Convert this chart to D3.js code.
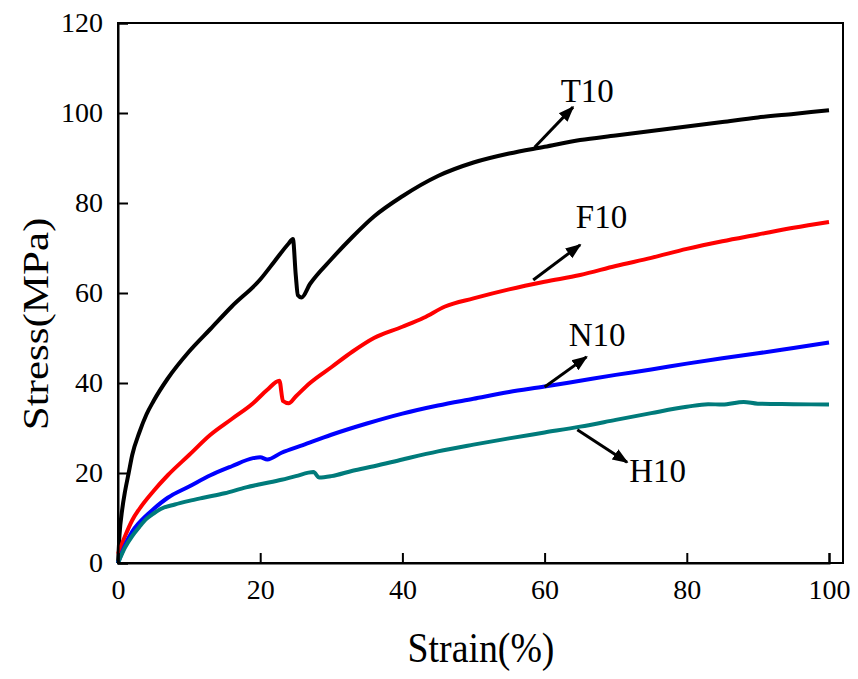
<!DOCTYPE html>
<html><head><meta charset="utf-8">
<script src="https://cdn.jsdelivr.net/npm/d3@7"></script>
<style>body{margin:0;background:#fff}svg{display:block}</style>
</head><body>
<svg id="c" width="858" height="679"></svg>
<script>
const T10 = [[0,0],[0.2,6],[0.6,12],[1,16],[1.5,20],[2,24],[3,29],[4,33],[5,36],[7,41],[10,47],[13,52],[16,57],[20,63],[22,67],[24,71],[24.6,72],[25,64],[25.3,59.5],[25.8,59],[27,62],[30,67.5],[33,72.5],[36,77],[40,81.5],[45,86],[50,89],[55,91],[60,92.5],[65,94],[70,95],[75,96],[80,97],[85,98],[90,99],[95,99.8],[100,100.6]];
const F10 = [[0,2],[1,6],[2,9.5],[3,12],[5,16],[7,19.5],[10,24],[13,28.5],[16,32],[19,35.5],[21,38.5],[22.7,40.5],[23.2,36],[24,35.5],[25,37],[27,40],[30,43.5],[33,47],[36,50],[40,52.5],[43,54.5],[46,57],[50,58.8],[55,60.8],[60,62.5],[65,64],[70,66],[75,67.8],[80,69.8],[85,71.5],[90,73],[95,74.5],[100,75.8]];
const N10 = [[0,0],[1,4],[2,7],[3,9],[5,12],[7,14.5],[10,17],[13,19.5],[16,21.5],[19,23.3],[20,23.5],[21,23],[23,24.5],[26,26.2],[30,28.5],[35,31],[40,33.2],[45,35],[50,36.5],[55,38],[60,39.2],[65,40.5],[70,41.8],[75,43],[80,44.3],[85,45.5],[90,46.6],[95,47.8],[100,49]];
const H10 = [[0,0],[1,3.5],[2,6],[3,8],[4,9.8],[5,11],[6,12],[8,13],[10,13.8],[12,14.5],[15,15.5],[18,16.8],[20,17.5],[23,18.5],[25,19.3],[27.5,20.2],[28.3,19],[30,19.3],[33,20.5],[36,21.5],[40,23],[45,24.8],[50,26.3],[55,27.7],[60,29],[65,30.3],[70,31.8],[75,33.3],[80,34.7],[83,35.3],[85,35.2],[88,35.8],[90,35.4],[95,35.3],[100,35.2]];
const seriesNames = ["T10","F10","N10","H10"];
const seriesColors = ["#000000","#ff0000","#0000ff","#007b7b"];
const xTicks = [0,20,40,60,80,100];
const yTicks = [0,20,40,60,80,100,120];
// annotations: [label, arrowStartX, arrowStartY, arrowEndX, arrowEndY, labelX, labelY]
const annotations = [
  ["T10",58.6,92.4,64,101.3,66,102.4],
  ["F10",58.4,62.9,65,70.7,68.0,74.4],
  ["N10",60,39.1,65.9,45.8,67.4,48.2],
  ["H10",64.6,29.6,71.6,22.4,75.9,18]
];

const FONT = "'Liberation Serif', 'Times New Roman', Tinos, 'DejaVu Serif', serif";
const svg = d3.select("#c");
const x = d3.scaleLinear().domain([0,100]).range([118,829]);
const y = d3.scaleLinear().domain([0,120]).range([563,23]);

svg.append("defs").append("marker").attr("id","ah").attr("viewBox","0 0 10 10")
  .attr("refX",9).attr("refY",5).attr("markerWidth",5.3).attr("markerHeight",5.3)
  .attr("orient","auto").attr("markerUnits","strokeWidth")
  .append("path").attr("d","M0,1.2L10,5L0,8.8z").attr("fill","#000");

const line = d3.line().x(d=>x(d[0])).y(d=>y(d[1])).curve(d3.curveMonotoneX);
[T10,F10,N10,H10].forEach((s,i)=>{
  svg.append("path").datum(s).attr("d",line).attr("fill","none")
    .attr("stroke",seriesColors[i]).attr("stroke-width",4).attr("stroke-linejoin","round");
});

svg.append("rect").attr("x",118).attr("y",23).attr("width",843-118).attr("height",563-23)
  .attr("fill","none").attr("stroke","#000").attr("stroke-width",2);

const xa = svg.append("g").attr("transform","translate(0,563)")
  .call(d3.axisBottom(x).tickValues(xTicks).tickSize(-10).tickPadding(16).tickFormat(d3.format("d")));
const ya = svg.append("g").attr("transform","translate(118,0)")
  .call(d3.axisLeft(y).tickValues(yTicks).tickSize(-10).tickPadding(15).tickFormat(d3.format("d")));
[xa,ya].forEach(a=>{
  a.attr("font-family",null).attr("font-size",null);
  a.select(".domain").attr("stroke-width",2);
  a.selectAll(".tick line").attr("stroke-width",2);
  a.selectAll("text").style("font-family",FONT).style("font-size","28px").attr("fill","#000");
});
xa.selectAll("text").attr("dy","0.71em");

svg.append("text").attr("transform","translate(481,662) scale(0.9,1)").attr("text-anchor","middle")
  .style("font-family",FONT).style("font-size","42px").text("Strain(%)");
svg.append("text").attr("transform","translate(48,324) scale(0.85,1) rotate(-90)").attr("text-anchor","middle")
  .style("font-family",FONT).style("font-size","43px").text("Stress(MPa)");

annotations.forEach(a=>{
  svg.append("line").attr("x1",x(a[1])).attr("y1",y(a[2])).attr("x2",x(a[3])).attr("y2",y(a[4]))
    .attr("stroke","#000").attr("stroke-width",3).attr("marker-end","url(#ah)");
  svg.append("text").attr("x",x(a[5])).attr("y",y(a[6])).attr("text-anchor","middle")
    .style("font-family",FONT).style("font-size","33px").text(a[0]);
});
</script>
</body></html>
